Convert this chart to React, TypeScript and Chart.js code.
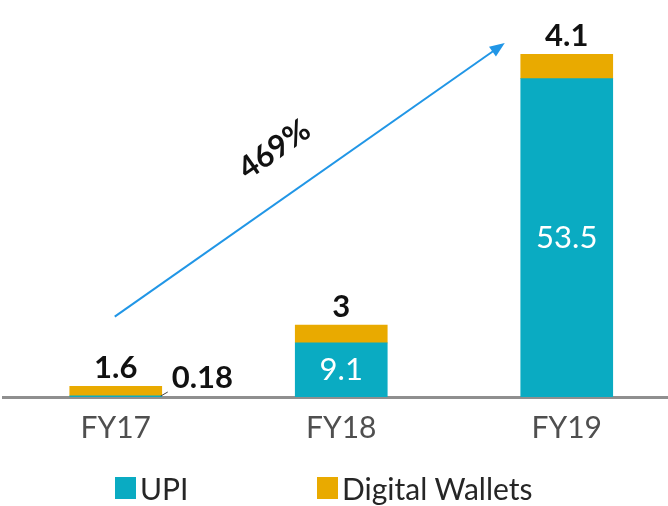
import React, { useEffect, useRef } from "react";
import { Chart, registerables } from "chart.js";

Chart.register(...registerables);

const categories = ["FY17", "FY18", "FY19"];
const upiValues = [0.18, 9.1, 53.5];
const walletValues = [1.6, 3, 4.1];
const growthLabel = "469%";

const TEAL = "#0aabc2";
const ORANGE = "#e9aa00";
const FONT = "Lato, 'Open Sans', sans-serif";

const labelPlugin = {
  id: "customLabels",
  afterDatasetsDraw(chart: any) {
    const ctx = chart.ctx;
    const x = chart.scales.x;
    const y = chart.scales.y;
    const upiMeta = chart.getDatasetMeta(0);
    const walMeta = chart.getDatasetMeta(1);
    ctx.save();
    ctx.textAlign = "center";
    ctx.textBaseline = "middle";
    categories.forEach((_, i) => {
      const ub = upiMeta.data[i];
      const wb = walMeta.data[i];
      // wallet label above stack
      ctx.fillStyle = "#111";
      ctx.font = `bold 31px ${FONT}`;
      ctx.fillText(String(walletValues[i]), wb.x, wb.y - 18);
      // upi label
      const h = ub.base - ub.y;
      if (h > 30) {
        ctx.fillStyle = "#ffffff";
        ctx.font = `31px ${FONT}`;
        ctx.fillText(String(upiValues[i]), ub.x, (ub.y + ub.base) / 2);
      } else {
        const right = ub.x + ub.width / 2;
        ctx.strokeStyle = "#444";
        ctx.lineWidth = 1;
        ctx.beginPath();
        ctx.moveTo(right - 1, ub.base - 1);
        ctx.lineTo(right + 6, ub.base - 5);
        ctx.stroke();
        ctx.fillStyle = "#111";
        ctx.font = `bold 31px ${FONT}`;
        ctx.textAlign = "left";
        ctx.fillText(String(upiValues[i]), right + 10, ub.base - 19);
        ctx.textAlign = "center";
      }
    });

    // growth arrow
    const x0 = x.getPixelForValue(0) - 1;
    const y0 = y.getPixelForValue(13.5);
    const x1 = x.getPixelForValue(2) - 62;
    const y1 = y.getPixelForValue(59.5);
    const ang = Math.atan2(y1 - y0, x1 - x0);
    ctx.strokeStyle = "#2196e6";
    ctx.fillStyle = "#2196e6";
    ctx.lineWidth = 2;
    ctx.beginPath();
    ctx.moveTo(x0, y0);
    ctx.lineTo(x1 - 10 * Math.cos(ang), y1 - 10 * Math.sin(ang));
    ctx.stroke();
    ctx.beginPath();
    ctx.moveTo(x1, y1);
    ctx.lineTo(x1 - 15 * Math.cos(ang) + 6 * Math.sin(ang), y1 - 15 * Math.sin(ang) - 6 * Math.cos(ang));
    ctx.lineTo(x1 - 15 * Math.cos(ang) - 6 * Math.sin(ang), y1 - 15 * Math.sin(ang) + 6 * Math.cos(ang));
    ctx.closePath();
    ctx.fill();

    // growth text
    const t = 0.476;
    const mx = x0 + (x1 - x0) * t;
    const my = y0 + (y1 - y0) * t;
    const off = 45;
    const tx = mx + off * Math.sin(ang);
    const ty = my - off * Math.cos(ang);
    ctx.translate(tx, ty);
    ctx.rotate(ang);
    ctx.fillStyle = "#111";
    ctx.font = `bold 31px ${FONT}`;
    ctx.textAlign = "center";
    ctx.textBaseline = "middle";
    ctx.fillText(growthLabel, 0, 0);
    ctx.restore();
  },
};

export default function App() {
  const ref = useRef<HTMLCanvasElement>(null);
  useEffect(() => {
    if (!ref.current) return;
    const chart = new Chart(ref.current, {
      type: "bar",
      data: {
        labels: categories,
        datasets: [
          { label: "UPI", data: upiValues, backgroundColor: TEAL, barThickness: 92, stack: "s" },
          { label: "Digital Wallets", data: walletValues, backgroundColor: ORANGE, barThickness: 92, stack: "s" },
        ],
      },
      options: {
        responsive: false,
        animation: false,
        layout: { padding: { left: 3, right: 4.5, top: 40, bottom: 55 } },
        plugins: { legend: { display: false }, tooltip: { enabled: false } },
        scales: {
          x: {
            stacked: true,
            grid: { display: false },
            border: { display: true, color: "#8f8f8f", width: 3 },
            ticks: { color: "#4f4f4f", font: { family: FONT, size: 30 }, padding: 5 },
          },
          y: { stacked: true, display: false, min: 0, max: 60 },
        },
      },
      plugins: [labelPlugin],
    });
    return () => chart.destroy();
  }, []);

  const legendText: React.CSSProperties = {
    position: "absolute",
    top: 470,
    height: 36,
    lineHeight: "36px",
    fontFamily: FONT,
    fontSize: 30,
    color: "#262626",
    whiteSpace: "nowrap",
  };
  return (
    <div style={{ position: "fixed", left: 0, top: 0, width: 668, height: 506, overflow: "hidden", background: "#fff" }}>
      <canvas ref={ref} width={684} height={506} style={{ position: "absolute", left: 0, top: 0, width: 684, height: 506 }} />
      <div style={{ position: "absolute", left: 115, top: 477, width: 21, height: 22, background: TEAL }} />
      <div style={{ ...legendText, left: 140 }}>UPI</div>
      <div style={{ position: "absolute", left: 317, top: 477, width: 21, height: 22, background: ORANGE }} />
      <div style={{ ...legendText, left: 342 }}>Digital Wallets</div>
    </div>
  );
}
